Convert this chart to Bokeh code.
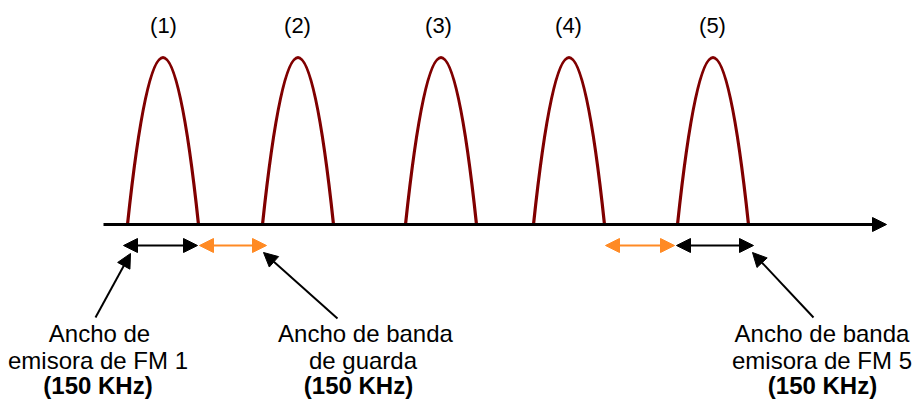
from bokeh.plotting import figure
from bokeh.models import Range1d, Arrow, NormalHead, ColumnDataSource
from bokeh.core.properties import value
from bokeh.embed import file_html
from bokeh.resources import INLINE

# --- data (x in diagram frequency units, y = signal level, 0 = axis) ---
station_labels = ["(1)", "(2)", "(3)", "(4)", "(5)"]
band_start = [127, 262, 405, 533, 677]
band_end = [198, 333, 476, 604, 748]
peak_level = [167, 167, 167, 167, 167]
label_centers = [163, 297, 438, 568, 712]
label_level = 199

axis_start, axis_end = 103, 886

# bandwidth markers (double arrows): (start, end, colour)
bw_level = -21
markers = [(123, 197, "black"), (199, 266, "#ff8a24"), (605, 674, "#ff8a24"), (676, 753, "black")]

# annotation pointers: (tail_x, tail_y, tip_x, tip_y)
pointers = [(95, -93, 130, -29), (337, -94, 263, -28), (813, -93, 752, -28)]

# annotation texts: lines with (x, y, text, bold)
notes = [
    (99, -109, "Ancho de", False),
    (97.5, -136, "emisora de FM 1", False),
    (97.5, -161, "(150 KHz)", True),
    (365, -109, "Ancho de banda", False),
    (362.5, -136, "de guarda", False),
    (358, -161, "(150 KHz)", True),
    (821.5, -109, "Ancho de banda", False),
    (821.5, -136, "emisora de FM 5", False),
    (822, -161, "(150 KHz)", True),
]

p = figure(width=915, height=401, output_backend="svg", toolbar_location=None,
           x_range=Range1d(0, 915), y_range=Range1d(-177, 224), min_border=0)
p.axis.visible = False
p.grid.visible = False
p.outline_line_color = None
p.background_fill_color = "white"
p.border_fill_color = "white"

# main frequency axis
p.add_layout(Arrow(x_start=axis_start, y_start=0, x_end=axis_end, y_end=0,
                   line_width=3, line_color="black",
                   end=NormalHead(size=14, fill_color="black", line_color="black", line_width=1)))

# station spectra (parabolic arches)
centers = [(a + b) / 2 for a, b in zip(band_start, band_end)]
src = ColumnDataSource(dict(x0=band_start, x1=band_end, y0=[0] * 5, y1=[0] * 5,
                            cx=centers, cy=[2 * h for h in peak_level]))
p.quadratic(x0="x0", y0="y0", x1="x1", y1="y1", cx="cx", cy="cy", source=src,
            line_color="#800000", line_width=3.2)

p.text(x=label_centers, y=[label_level] * 5, text=station_labels,
       text_font=value("Liberation Sans"), text_font_size="22px",
       text_align="center", text_baseline="middle", text_color="black")

for s, e, c in markers:
    p.add_layout(Arrow(x_start=s, y_start=bw_level, x_end=e, y_end=bw_level,
                       line_width=2, line_color=c,
                       start=NormalHead(size=14, fill_color=c, line_color=c, line_width=1),
                       end=NormalHead(size=14, fill_color=c, line_color=c, line_width=1)))

for tx, ty, hx, hy in pointers:
    p.add_layout(Arrow(x_start=tx, y_start=ty, x_end=hx, y_end=hy,
                       line_width=2, line_color="black",
                       end=NormalHead(size=14, fill_color="black", line_color="black", line_width=1)))

for x, y, t, bold in notes:
    p.text(x=[x], y=[y], text=[t], text_font=value("Liberation Sans"),
           text_font_size="24px", text_align="center", text_baseline="alphabetic",
           text_font_style="bold" if bold else "normal", text_color="black")

open("out.html", "w").write(file_html(p, INLINE))
